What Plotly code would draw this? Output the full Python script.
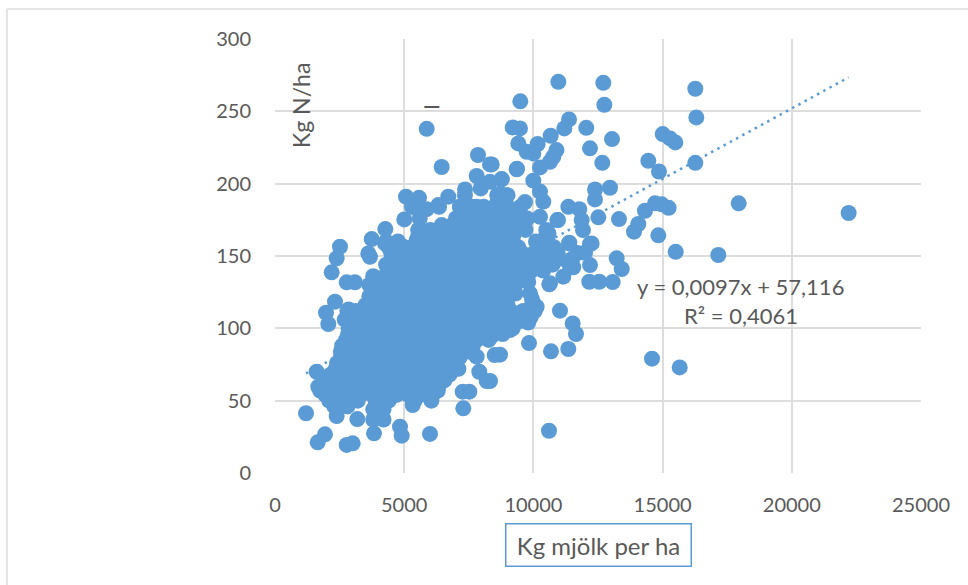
import plotly.graph_objects as go

# Sparse points
scatter_milk = [10965,12706,16266,9494,12745,16305,11378,11196,9198,9481,12047,10669,9416,13042,15004,15286,15492,
12190,10166,9740,9996,10894,10770,10642,10255,14447,12666,16266,14860,9365,8385,9996,8771,10255,10383,12384,12964,
12384,9675,17944,22200,11351,11777,11869,11919,10952,12512,13313,14319,14706,14965,15234,14060,13893,14834,15507,
17156,11390,12190,11997,13223,10255,10514,13417,13069,12550,12163,12190,11544,10642,11029,11520,11648,11351,10681,
9830,8707,8500,14590,15662,10604,8320,5871,6451,7856,8320,7804,9353,8771,8320,7353,7960,6707,5871,6320,5070,5573,
5352,5004,4269,3742,2515,2387,6451,10925,11378,12252,10584,8707,8966,8579,7804,7159,5546,5482,4257,3611,4965,9353,
2193,3676,2774,3096,2322,1974,2063,1613,2063,1677,2128,1200,2387,3186,1935,1652,2774,3007,3831,4838,4903,5998,5329,
6064,7287,7264,7519,8193,7906,7804,6966,8385,9094,9803,10124,9868,10615,11157,11416,
3800,4200,3800,4200,2800,2300,2700,2800,2850,3650,3650]
scatter_n = [270.4,269.7,265.6,256.9,254.5,245.8,244.4,238.2,238.9,238.2,238.6,233.1,227.8,230.8,234.3,231.3,228.5,
224.4,227.4,222,220.9,223.2,218.6,215.1,211.2,215.8,214.4,214.4,208.4,210.3,213.3,202.1,203,194.5,187.6,196,197.2,
189.1,187.3,186.4,179.7,184,182.4,174.8,167.9,174.8,176.7,175.5,181.3,186.4,185.7,183.3,172.1,166.8,164.3,152.9,
150.7,159.2,158.3,152.2,148.4,177.1,165.6,141,132,132.2,132.2,143.7,142.2,131.1,112.2,103.4,96.1,85.7,84.1,
89.8,81.8,81.5,79,73,29.2,63.6,237.9,211.5,219.8,213.3,205.3,209.9,203.2,201.3,196,196.7,191,182.4,185.2,191,190.2,
184,175.3,168.6,161.7,156.4,148.4,171.4,174.8,158.7,158.7,165.6,193,192,186.4,184,184,167.9,161,158.7,151.8,156.4,180.6,
138.7,149.5,131.8,131.8,118.4,110.8,103,70,66.6,59.6,51.6,41.3,39.4,37.3,26.7,21.2,19.4,20.5,27.4,32,25.8,27,47,
53.4,44.7,56.2,56.2,63.6,70,80.4,72.4,94.7,98.8,106.9,114.9,124.2,130.4,135.7,142.6,
37,37,44,44,46,46,106,112,113,130,122]

# Dense cloud: N levels with the milk values seen at each level
n_levels = [50,54,57,60,64,68,72,76,80,84,88,92,96,100,104,108,112,116,120,124,128,132,136,140,144,148,152,156,160,164,168,172,176,180,184,192]
milk_by_level = [
 [2100,2700,3200,3900,4400,5400,6050],
 [1950,2400,2860,3320,3780,4240,4700,5160,5620,6100],
 [1750,2200,2660,3120,3580,4040,4500,4960,5420,5880,6300],
 [1750,2180,2640,3100,3560,4020,4480,4940,5400,5860,6320],
 [1950,2410,2870,3330,3790,4250,4710,5170,5630,6090,6550],
 [2150,2610,3070,3530,3990,4450,4910,5370,5830,6290,6750],
 [2350,2810,3270,3730,4190,4650,5110,5570,6030,6490,6950,7100],
 [2400,2860,3320,3780,4240,4700,5160,5620,6080,6540,7000],
 [2550,3010,3470,3930,4390,4850,5310,5770,6230,6690,7150],
 [2550,3010,3470,3930,4390,4850,5310,5770,6230,6690,7150,7500],
 [2600,3060,3520,3980,4440,4900,5360,5820,6280,6740,7200,7660],
 [2750,3210,3670,4130,4590,5050,5510,5970,6430,6890,7350,7810,8270],
 [2830,3290,3750,4210,4670,5130,5590,6050,6510,6970,7430,7890,8350,8810],
 [2850,3310,3770,4230,4690,5150,5610,6070,6530,6990,7450,7910,8370,8830,9200],
 [2900,3360,3820,4280,4740,5200,5660,6120,6580,7040,7500,7960,8420,8880,9340,9800],
 [3000,3460,3920,4380,4840,5300,5760,6220,6680,7140,7600,8060,8520,8980,9900],
 [3130,3590,4050,4510,4970,5430,5890,6350,6810,7270,7730,8190,8650,9110,9600,10050],
 [3500,3960,4420,4880,5340,5800,6260,6720,7180,7640,8100,8560,9000,9950],
 [3700,4160,4620,5080,5540,6000,6460,6920,7380,7840,8300,8760,9950],
 [3800,4260,4720,5180,5640,6100,6560,7020,7480,7940,8400,8860,9300],
 [3750,4210,4670,5130,5590,6050,6510,6970,7430,7890,8350,8810,9270],
 [3850,4310,4770,5230,5690,6150,6610,7070,7530,7990,8450,8910,9370,9800],
 [3800,4260,4720,5180,5640,6100,6560,7020,7480,7940,8400,8860,9320,9780],
 [4400,4860,5320,5780,6240,6700,7160,7620,8080,8540,9000,9460,9920,10380],
 [4300,4760,5220,5680,6140,6600,7060,7520,7980,8440,8900,9360,9820,10280,10740],
 [4550,5010,5470,5930,6390,6850,7310,7770,8230,8690,9150,9610,10070,10530,10990,11500],
 [4500,4960,5420,5880,6340,6800,7260,7720,8180,8640,9100,9560,10020,10480,10940,11700],
 [4400,4860,5300,5740,6200,6660,7120,7580,8040,8500,8960,9420,10340,10800],
 [4300,4760,5500,5960,6420,6880,7340,7800,8260,8720,9180,10100,10560],
 [5550,6000,6460,6920,7380,7840,8300,8760,9220],
 [5550,6010,6470,6930,7390,7850,8310,8770,9230,9690,10500],
 [6900,7350,7810,8270,8730,9190,9650],
 [5600,7000,7460,7920,8380,8840,9300,9760],
 [7300,7760,8220,8680,9140],
 [5300,6350,7160,7620,8080,8540,9000,9500],
 [7350,8600,9000],
]

trend_milk = [1200, 22200]
trend_n = [68.8, 273.5]

x_ticks = [0, 5000, 10000, 15000, 20000, 25000]
y_ticks = [0, 50, 100, 150, 200, 250, 300]

BLUE = "#5b9bd5"
GRID = "#dddddd"
TEXT = "#595959"
FONT = "Lato, Carlito, Calibri, sans-serif"

all_milk = list(scatter_milk)
all_n = list(scatter_n)
for level, row in zip(n_levels, milk_by_level):
    all_milk += row
    all_n += [level] * len(row)

fig = go.Figure()
fig.add_trace(go.Scatter(x=all_milk, y=all_n, mode="markers",
                         marker=dict(color=BLUE, size=16, line=dict(width=0)),
                         hoverinfo="skip", showlegend=False))
fig.add_trace(go.Scatter(x=trend_milk, y=trend_n, mode="lines",
                         line=dict(color=BLUE, width=2.5, dash="2.5px,4.6px"),
                         hoverinfo="skip", showlegend=False))

W, H = 968, 585
L, R, T, B = 275, 921, 39, 473

def axis(ticks, maxv):
    return dict(range=[0, maxv], tickvals=ticks, ticktext=[str(t) for t in ticks],
                showgrid=True, gridcolor=GRID, gridwidth=1.5, zeroline=False,
                showline=False, ticks="outside", tickcolor="rgba(0,0,0,0)",
                tickfont=dict(family=FONT, size=20, color=TEXT))

xaxis = axis(x_ticks, 25000); xaxis["ticklen"] = 14
yaxis = axis(y_ticks, 300); yaxis["ticklen"] = 19

dx, dy = L, H - B
pw, ph = R - L, B - T
def label_px(text, px, py, size=22, **kw):
    a = dict(x=(px - dx) / pw, y=(H - py - dy) / ph, xref="paper", yref="paper", text=text,
             showarrow=False, xanchor="center", yanchor="middle",
             font=dict(family=FONT, size=size, color=TEXT))
    a.update(kw)
    return a

fig.update_layout(
    width=W, height=H, autosize=False,
    margin=dict(l=L, r=W - R, t=T, b=H - B),
    paper_bgcolor="white", plot_bgcolor="white",
    xaxis=xaxis, yaxis=yaxis,
    annotations=[
        label_px("Kg mjölk per ha", 598, 545, size=24, width=182, height=39,
                 bordercolor=BLUE, borderwidth=1.5, borderpad=1, bgcolor="white"),
        label_px("Kg N/ha", 301, 106, size=23, textangle=-90),
        label_px("<b>—</b>", 432, 105),
        label_px("y = 0,0097x + 57,116", 740, 286),
        label_px("R² = 0,4061", 741, 315),
    ],
    shapes=[
        dict(type="line", xref="paper", yref="paper",
             x0=(7 - dx) / pw, x1=(7 - dx) / pw, y0=(H - 585 - dy) / ph, y1=(H - 9 - dy) / ph,
             line=dict(color=GRID, width=1.5)),
        dict(type="line", xref="paper", yref="paper",
             x0=(7 - dx) / pw, x1=(968 - dx) / pw, y0=(H - 9 - dy) / ph, y1=(H - 9 - dy) / ph,
             line=dict(color=GRID, width=1.5)),
    ],
)

fig.write_html("out.html", config={"displayModeBar": False},
               post_script="document.body.style.margin='0';document.body.style.overflow='hidden';")
